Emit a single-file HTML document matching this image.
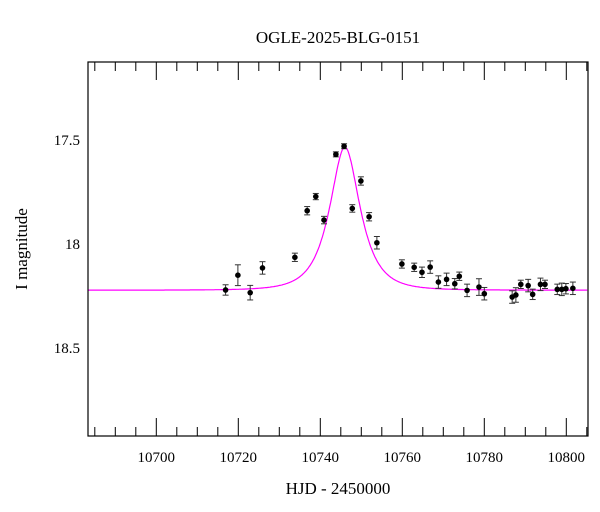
<!DOCTYPE html>
<html><head><meta charset="utf-8"><style>
body{margin:0;background:#fff;}
svg{display:block;font-family:"Liberation Serif",serif;}
</style></head><body>
<svg id="chart" width="600" height="512" xmlns="http://www.w3.org/2000/svg">
<text x="338" y="43" text-anchor="middle" font-size="17">OGLE-2025-BLG-0151</text>
<text x="338" y="494" text-anchor="middle" font-size="17">HJD - 2450000</text>
<text transform="translate(27,249) rotate(-90)" text-anchor="middle" font-size="17">I magnitude</text>
<g id="ticks"></g><g id="model"></g><g id="points"></g>
<rect x="88" y="62" width="500" height="374" fill="none" stroke="#000" stroke-width="1.2"/>
</svg>
<script>
const days=[10716.9,10719.9,10722.9,10725.9,10733.8,10736.8,10738.9,10740.9,10743.8,10745.8,10747.8,10749.9,10751.9,10753.8,10759.9,10762.9,10764.8,10766.8,10768.8,10770.8,10772.8,10773.9,10775.8,10778.7,10780.0,10786.8,10787.7,10788.9,10790.7,10791.8,10793.7,10794.8,10797.8,10798.9,10799.9,10801.6];
const mags=[18.221,18.150,18.234,18.115,18.064,17.840,17.772,17.885,17.569,17.530,17.829,17.697,17.869,17.994,18.096,18.112,18.136,18.111,18.183,18.170,18.191,18.155,18.223,18.207,18.239,18.255,18.245,18.194,18.200,18.242,18.194,18.194,18.218,18.218,18.215,18.213];
const errs=[0.025,0.05,0.035,0.03,0.02,0.02,0.015,0.018,0.012,0.012,0.018,0.02,0.02,0.03,0.02,0.02,0.025,0.03,0.03,0.03,0.025,0.02,0.03,0.04,0.03,0.03,0.035,0.02,0.03,0.025,0.03,0.02,0.025,0.03,0.025,0.03];
const xTicks=[10700,10720,10740,10760,10780,10800];
const yTicks=[17.5,18,18.5];
const t0=10746,tE=5.8,u0=0.6,base=18.222;
const X=d=>156.3+(d-10700)*4.1, Y=m=>140+(m-17.5)*208;
const NS="http://www.w3.org/2000/svg";
function mk(tag,attrs,parent){const e=document.createElementNS(NS,tag);for(const k in attrs)e.setAttribute(k,attrs[k]);parent.appendChild(e);return e;}
const tg=document.getElementById('ticks');
for(let d=10685;d<=10805;d+=5){const x=X(d);if(x<88||x>588)continue;const L=d%20===0?18:9;
 const a=mk('line',{x1:x,x2:x,y1:436,y2:436-L,stroke:'#000'},tg);
 const b=mk('line',{x1:x,x2:x,y1:62,y2:62+L,stroke:'#000'},tg);}
for(let i=12;i<=19;i++){const m=i/10;const y=Y(m);if(y<62||y>436)continue;const L=(i%5===0)?18:9;
 const a=mk('line',{x1:88,x2:88+L,y1:y,y2:y,stroke:'#000'},tg);
 const b=mk('line',{x1:588,x2:588-L,y1:y,y2:y,stroke:'#000'},tg);}
xTicks.forEach(d=>{const t=mk('text',{x:X(d),y:462,'text-anchor':'middle','font-size':15},tg);t.textContent=String(d);
 });
yTicks.forEach(m=>{const t=mk('text',{x:80,y:Y(m)+5,'text-anchor':'end','font-size':15},tg);t.textContent=String(m);
 });
let pts=[];for(let d=10683.3;d<=10805.3;d+=0.2){const u=Math.sqrt(u0*u0+((d-t0)/tE)**2);const A=(u*u+2)/(u*Math.sqrt(u*u+4));pts.push(X(d).toFixed(1)+','+Y(base-2.5*Math.log10(A)).toFixed(1));}
const pl=mk('polyline',{points:pts.join(' '),fill:'none',stroke:'#ff00ff','stroke-width':1.2},document.getElementById('model'));

const pg=document.getElementById('points');
days.forEach((d,i)=>{const x=X(d),y=Y(mags[i]),e=errs[i]*208;
 const g=mk('g',{},pg);
 mk('line',{x1:x,x2:x,y1:y-e,y2:y+e,stroke:'#333'},g);
 mk('line',{x1:x-3,x2:x+3,y1:y-e,y2:y-e,stroke:'#333'},g);
 mk('line',{x1:x-3,x2:x+3,y1:y+e,y2:y+e,stroke:'#333'},g);
 mk('circle',{cx:x,cy:y,r:2.8,fill:'#000'},g);});
</script>
</body></html>
